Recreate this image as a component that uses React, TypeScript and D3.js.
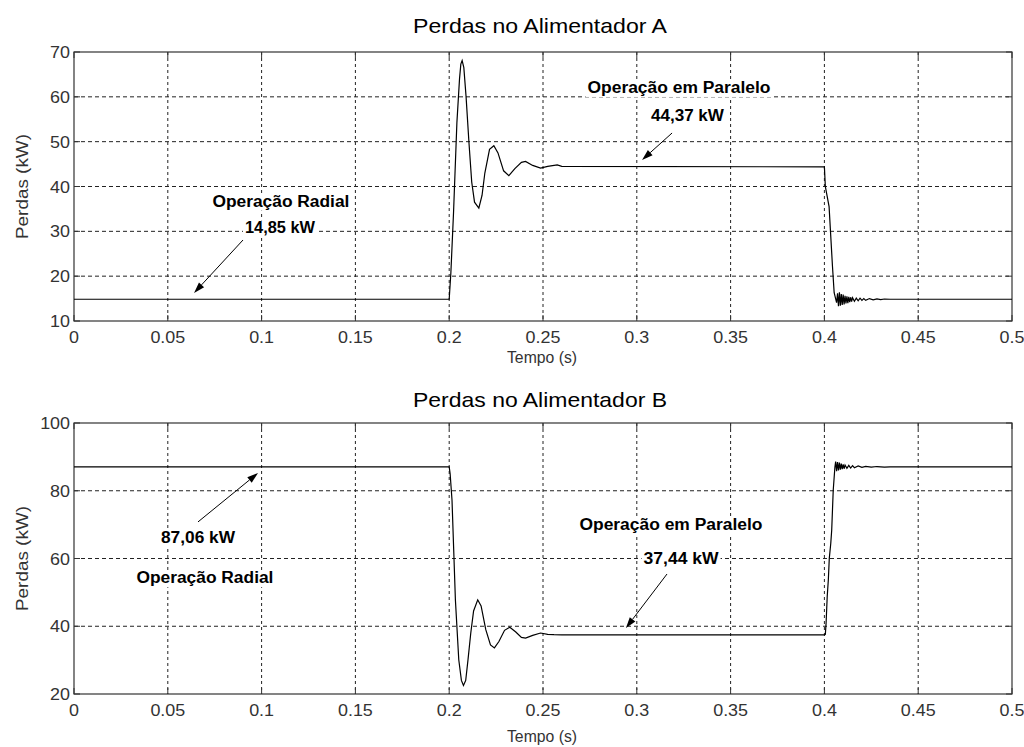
import * as d3 from "d3";

// tempo (s) e perdas (kW) - Alimentador A
const timeA = [
  0, 0.2, 0.2009, 0.2023, 0.2041, 0.2055, 0.2062, 0.2069, 0.2078, 0.209, 0.2105, 0.212, 0.2135, 0.2158,
  0.2175, 0.219, 0.2215, 0.2238, 0.226, 0.229, 0.2318, 0.235, 0.2385, 0.2407, 0.2445, 0.2487, 0.2525,
  0.2576, 0.26, 0.4, 0.4005, 0.4025, 0.4043, 0.4052, 0.4065, 0.407, 0.4075, 0.408, 0.4085, 0.409,
  0.4095, 0.41, 0.4105, 0.411, 0.4115, 0.412, 0.4125, 0.413, 0.4135, 0.414, 0.4145, 0.415, 0.416,
  0.417, 0.418, 0.419, 0.42, 0.421, 0.422, 0.424, 0.426, 0.428, 0.43, 0.432, 0.435, 0.5,
];
const lossA = [
  14.85, 14.85, 20.8, 34.1, 54.2, 64, 67.3, 68.1, 66.5, 60, 50, 41, 36.5, 35.2,
  38, 43, 48.3, 49.1, 47.5, 43.5, 42.4, 44, 45.4, 45.6, 44.7, 44.1, 44.5,
  44.8, 44.5, 44.37, 40, 35.5, 22.2, 16.3, 14.1, 16.2, 13.3, 16.4, 13.4, 16.0,
  13.6, 15.9, 13.7, 15.6, 13.9, 15.5, 14.0, 15.4, 14.2, 15.3, 14.3, 15.2, 14.4,
  15.1, 14.5, 15.1, 14.6, 15.0, 14.6, 15.0, 14.7, 14.95, 14.75, 14.9, 14.85, 14.85,
];

// Alimentador B
const timeB = [
  0, 0.2, 0.2005, 0.2015, 0.2024, 0.2033, 0.2051, 0.2065, 0.2076, 0.2088, 0.21, 0.2115, 0.213, 0.2152,
  0.217, 0.2195, 0.222, 0.2241, 0.2265, 0.2295, 0.2323, 0.2355, 0.2385, 0.2407, 0.2445, 0.2487, 0.2525,
  0.2558, 0.26, 0.4, 0.4005, 0.4009, 0.4015, 0.4021, 0.4026, 0.4034, 0.4039, 0.4047, 0.4056, 0.406,
  0.4065, 0.407, 0.4075, 0.408, 0.4085, 0.409, 0.4095, 0.41, 0.4105, 0.411, 0.412, 0.413, 0.414,
  0.415, 0.416, 0.418, 0.42, 0.422, 0.425, 0.428, 0.432, 0.435, 0.5,
];
const lossB = [
  87.06, 87.06, 85, 77.2, 62.5, 47.8, 30.1, 24, 22.5, 24, 30, 38, 44.5, 47.8,
  46, 39, 34.5, 33.6, 35.5, 38.8, 39.7, 38.3, 36.7, 36.5, 37.3, 38.0, 37.6,
  37.5, 37.44, 37.44, 37.6, 40.9, 48.8, 53.7, 60, 64.5, 68.4, 80.1, 87, 88.6,
  85.8, 88.5, 86.0, 88.3, 86.2, 88.0, 86.4, 87.8, 86.5, 87.6, 86.6, 87.5, 86.7,
  87.4, 86.8, 87.3, 86.9, 87.2, 86.95, 87.15, 87.0, 87.06, 87.06,
];

const xTicks = [0, 0.05, 0.1, 0.15, 0.2, 0.25, 0.3, 0.35, 0.4, 0.45, 0.5];
const xTickLabels = ["0", "0.05", "0.1", "0.15", "0.2", "0.25", "0.3", "0.35", "0.4", "0.45", "0.5"];
const yTicksA = [10, 20, 30, 40, 50, 60, 70];
const yTicksB = [20, 40, 60, 80, 100];

// anotações: [texto, t, valor, largura]
const notesA = [
  ["Operação em Paralelo", 0.3225, 60.86, 183],
  ["44,37 kW", 0.327, 54.5, 73],
  ["Operação Radial", 0.1103, 35.5, 137],
  ["14,85 kW", 0.1098, 29.56, 70],
];
const notesB = [
  ["87,06 kW", 0.0661, 64.5, 74],
  ["Operação Radial", 0.0698, 52.7, 137],
  ["Operação em Paralelo", 0.3182, 68.27, 183],
  ["37,44 kW", 0.3236, 58.23, 75],
];
// setas: [t0, v0, t1, v1] (cauda -> ponta)
const arrowsA = [
  [0.0901, 28.07, 0.064, 16.25],
  [0.3188, 51.93, 0.3028, 45.91],
];
const arrowsB = [
  [0.0661, 70.8, 0.0981, 85.24],
  [0.3161, 55.42, 0.2942, 39.48],
];

const font = "'Liberation Sans', Arial, Helvetica, sans-serif";
const left = 74;
const right = 1012;

const Panel = ({ top, bottom, yDomain, yTicks, time, loss, notes, arrows, title, titleY, tickY, xlabelY }) => {
  const x = d3.scaleLinear().domain([0, 0.5]).range([left, right]);
  const y = d3.scaleLinear().domain(yDomain).range([bottom, top]);
  const line = d3
    .line()
    .x((d) => x(d[0]))
    .y((d) => y(d[1]));
  const pts = time.map((t, i) => [t, loss[i]]);

  return (
    <g>
      <text x={540} y={titleY} textAnchor="middle" fontSize={21} textLength={254} lengthAdjust="spacingAndGlyphs" fill="#000">
        {title}
      </text>
      {/* grade */}
      {xTicks.slice(1, -1).map((t) => (
        <line key={"gx" + t} x1={x(t)} x2={x(t)} y1={top} y2={bottom} stroke="#222" strokeDasharray="3,3" />
      ))}
      {yTicks.slice(1, -1).map((v) => (
        <line key={"gy" + v} x1={left} x2={right} y1={y(v)} y2={y(v)} stroke="#222" strokeDasharray="4,3" />
      ))}
      {/* ticks */}
      {xTicks.map((t) => (
        <g key={"tx" + t}>
          <line x1={x(t)} x2={x(t)} y1={bottom} y2={bottom - 6} stroke="#333" />
          <line x1={x(t)} x2={x(t)} y1={top} y2={top + 6} stroke="#333" />
        </g>
      ))}
      {yTicks.map((v) => (
        <g key={"ty" + v}>
          <line x1={left} x2={left + 6} y1={y(v)} y2={y(v)} stroke="#333" />
          <line x1={right} x2={right - 6} y1={y(v)} y2={y(v)} stroke="#333" />
        </g>
      ))}
      <rect x={left} y={top} width={right - left} height={bottom - top} fill="none" stroke="#333" strokeWidth={1.2} />
      {xTicks.map((t, i) => (
        <text
          key={"lx" + t}
          transform={`translate(${x(t)},${tickY}) scale(1.12,1)`}
          textAnchor="middle"
          fontSize={16}
          fill="#333"
        >
          {xTickLabels[i]}
        </text>
      ))}
      {yTicks.map((v) => (
        <text
          key={"ly" + v}
          transform={`translate(${left - 4},${y(v) + 6}) scale(1.12,1)`}
          textAnchor="end"
          fontSize={16}
          fill="#333"
        >
          {v}
        </text>
      ))}
      <text x={542} y={xlabelY} textAnchor="middle" fontSize={16} textLength={70} lengthAdjust="spacingAndGlyphs" fill="#333">
        Tempo (s)
      </text>
      <text
        transform={`translate(28,${(top + bottom) / 2}) rotate(-90)`}
        textAnchor="middle"
        fontSize={17}
        textLength={105}
        lengthAdjust="spacingAndGlyphs"
        fill="#333"
      >
        Perdas (kW)
      </text>
      <path d={line(pts)} fill="none" stroke="#000" strokeWidth={1.2} />
      {notes.map(([label, t, v, w]) => (
        <g key={label}>
          <rect x={x(t) - w / 2 - 2} y={y(v) - 13} width={w + 4} height={17} fill="#fff" />
          <text
            x={x(t)}
            y={y(v)}
            textAnchor="middle"
            fontSize={16}
            fontWeight="bold"
            textLength={w}
            lengthAdjust="spacingAndGlyphs"
            fill="#000"
          >
            {label}
          </text>
        </g>
      ))}
      {arrows.map(([t0, v0, t1, v1], i) => {
        const x0 = x(t0), y0 = y(v0), x1 = x(t1), y1 = y(v1);
        const a = Math.atan2(y1 - y0, x1 - x0);
        const len = 11, half = 3.5;
        const bx = x1 - len * Math.cos(a), by = y1 - len * Math.sin(a);
        const p1 = [bx + half * Math.sin(a), by - half * Math.cos(a)];
        const p2 = [bx - half * Math.sin(a), by + half * Math.cos(a)];
        return (
          <g key={"ar" + i}>
            <line x1={x0} y1={y0} x2={bx} y2={by} stroke="#000" strokeWidth={1} />
            <path d={`M${x1},${y1}L${p1[0]},${p1[1]}L${p2[0]},${p2[1]}Z`} fill="#000" />
          </g>
        );
      })}
    </g>
  );
};

export default function App() {
  return (
    <svg
      width={1024}
      height={747}
      style={{ position: "absolute", left: 0, top: 0, background: "#fff" }}
      fontFamily={font}
    >
      <rect width={1024} height={747} fill="#fff" />
      <Panel
        top={52}
        bottom={321}
        yDomain={[10, 70]}
        yTicks={yTicksA}
        time={timeA}
        loss={lossA}
        notes={notesA}
        arrows={arrowsA}
        title="Perdas no Alimentador A"
        titleY={33}
        tickY={343}
        xlabelY={363}
      />
      <Panel
        top={423}
        bottom={694}
        yDomain={[20, 100]}
        yTicks={yTicksB}
        time={timeB}
        loss={lossB}
        notes={notesB}
        arrows={arrowsB}
        title="Perdas no Alimentador B"
        titleY={407}
        tickY={716}
        xlabelY={742}
      />
    </svg>
  );
}
